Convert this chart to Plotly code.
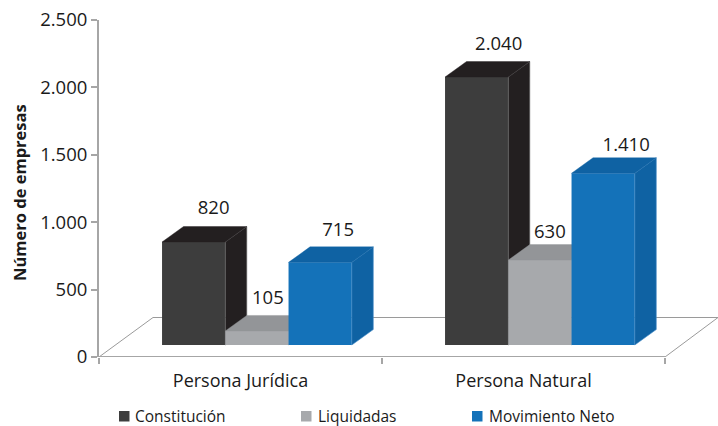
import plotly.graph_objects as go

# ---- data -------------------------------------------------------------
categories = ["Persona Jurídica", "Persona Natural"]
series_names = ["Constitución", "Liquidadas", "Movimiento Neto"]
# printed value labels
constitucion_labels = [820, 2040]
liquidadas_labels = [105, 630]
movimiento_labels = [715, 1410]
# bar heights as they are drawn, read against the value axis
constitucion_heights = [764, 1988]
liquidadas_heights = [104, 630]
movimiento_heights = [613, 1274]
y_ticks = [0, 500, 1000, 1500, 2000, 2500]
y_tick_labels = ["0", "500", "1.000", "1.500", "2.000", "2.500"]

# ---- style ------------------------------------------------------------
W, H = 718, 426
M_L, M_T, M_B = 99, 20, 69
CAT_PX = 283.0
XU = 1 / CAT_PX
YU = 2500 / (H - M_T - M_B)
FRONT = ["#3d3d3d", "#a7a9ac", "#1472b9"]
SHADE = ["#231f20", "#939598", "#0f62a3"]
EDGE = ["#6a6a6a", "#a7a9ac", "#4a8fca"]
BAR_W = 0.2235
GROUP_SHIFT = 0.058
BASE = 12 * YU
DX, DY = 21.5 * XU, 15.5 * YU
LABEL_DX = [[20, 22], [11, 10], [18, 23]]
LABEL_DY = [[17, 16], [16, 11], [15, 11]]
AXIS_GREY = "#a6a6a6"
FONT = "Open Sans"
TXT = "#1a1a1a"
x_max = (W - M_L) / CAT_PX

labels = [constitucion_labels, liquidadas_labels, movimiento_labels]
heights = [constitucion_heights, liquidadas_heights, movimiento_heights]


def fmt(v):
    return f"{v:,}".replace(",", ".")


fig = go.Figure()

# floor
fig.add_trace(go.Scatter(
    x=[0, 54 * XU, x_max, 2, 0], y=[0, 39.5 * YU, 39.5 * YU, 0, 0],
    mode="lines", line=dict(color="#9a9a9a", width=1),
    cliponaxis=False, hoverinfo="skip", showlegend=False))
fig.add_trace(go.Scatter(
    x=[0, 2], y=[0, 0], mode="lines", line=dict(color=AXIS_GREY, width=2),
    cliponaxis=False, hoverinfo="skip", showlegend=False))

for i, name in enumerate(series_names):
    ax = str(i + 2)
    offs = (i - 1) * BAR_W + GROUP_SHIFT
    xs = [c + 0.5 + offs for c in range(len(categories))]
    fig.add_trace(go.Bar(
        x=xs, y=heights[i], base=[BASE] * len(xs), width=BAR_W, name=name,
        marker=dict(color=FRONT[i], line=dict(width=0)),
        xaxis="x" + ax, yaxis="y" + ax, showlegend=False))
    for xc, h in zip(xs, heights[i]):
        x0, x1 = xc - BAR_W / 2, xc + BAR_W / 2
        top, bot = BASE + h, BASE
        fig.add_trace(go.Scatter(
            x=[x1, x1, x1 + DX, x1 + DX, x1],
            y=[bot, top, top + DY, bot + DY, bot],
            fill="toself", fillcolor=SHADE[i], mode="lines",
            line=dict(color=EDGE[i], width=0.6),
            xaxis="x" + ax, yaxis="y" + ax, hoverinfo="skip", showlegend=False))
        fig.add_trace(go.Scatter(
            x=[x0, x1, x1 + DX, x0 + DX, x0],
            y=[top, top, top + DY, top + DY, top],
            fill="toself", fillcolor=SHADE[i], mode="lines",
            line=dict(color=SHADE[i], width=0.4),
            xaxis="x" + ax, yaxis="y" + ax, hoverinfo="skip", showlegend=False))
    fig.add_trace(go.Scatter(
        x=[xc + d * XU for xc, d in zip(xs, LABEL_DX[i])],
        y=[BASE + h + DY + d * YU for h, d in zip(heights[i], LABEL_DY[i])],
        text=[fmt(v) for v in labels[i]], mode="text",
        textposition="middle center", textfont=dict(family=FONT, size=18.5, color=TXT),
        cliponaxis=False, xaxis="x" + ax, yaxis="y" + ax,
        hoverinfo="skip", showlegend=False))

layout = dict(
    width=W, height=H, autosize=False,
    margin=dict(l=M_L, r=0, t=M_T, b=M_B, pad=0),
    paper_bgcolor="white", plot_bgcolor="white", showlegend=False,
    font=dict(family=FONT, color=TXT),
    xaxis=dict(
        range=[0, x_max], showgrid=False, zeroline=False, showline=False,
        tickvals=[c + 0.5 for c in range(len(categories))], ticktext=categories,
        ticks="", ticklabelstandoff=11, tickfont=dict(family=FONT, size=18, color=TXT),
        minor=dict(tickvals=[0, 1, 2], ticks="outside", ticklen=6,
                   tickcolor=AXIS_GREY, tickwidth=1.5, showgrid=False)),
    yaxis=dict(
        range=[0, 2500], showgrid=False, zeroline=False, showline=True,
        linecolor=AXIS_GREY, linewidth=2, tickvals=y_ticks, ticktext=y_tick_labels,
        ticks="outside", ticklen=6, tickcolor=AXIS_GREY, tickwidth=1.5,
        tickfont=dict(family=FONT, size=18.5, color=TXT)),
)
for i in range(len(series_names)):
    n = str(i + 2)
    layout["xaxis" + n] = dict(range=[0, x_max], overlaying="x", visible=False)
    layout["yaxis" + n] = dict(range=[0, 2500], overlaying="y", visible=False)
fig.update_layout(**layout)

# axis title and legend, in page pixels
fig.add_annotation(
    text="<b>Número de empresas</b>", textangle=-90, showarrow=False,
    xref="paper", yref="paper", xanchor="center", yanchor="middle",
    x=(19 - M_L) / (W - M_L), y=(H - M_B - 193) / (H - M_T - M_B),
    font=dict(family=FONT, size=16.5, color=TXT))
legend_swatch_px = [119, 301, 472]
legend_text_px = [134, 317, 488]
legend_y_px = 416
for name, col, sx, tx in zip(series_names, FRONT, legend_swatch_px, legend_text_px):
    fig.add_shape(
        type="rect", xref="paper", yref="paper", line=dict(width=0), fillcolor=col,
        x0=(sx - M_L) / (W - M_L), x1=(sx + 10.5 - M_L) / (W - M_L),
        y0=(H - M_B - legend_y_px + 5) / (H - M_T - M_B),
        y1=(H - M_B - legend_y_px - 5.5) / (H - M_T - M_B))
    fig.add_annotation(
        text=name, showarrow=False, xref="paper", yref="paper",
        xanchor="left", yanchor="middle",
        x=(tx - M_L) / (W - M_L), y=(H - M_B - legend_y_px) / (H - M_T - M_B),
        xshift=-1, font=dict(family=FONT, size=15.5, color=TXT))

fig.write_html("out.html", config={"displayModeBar": False},
               post_script="document.body.style.margin='0';")
